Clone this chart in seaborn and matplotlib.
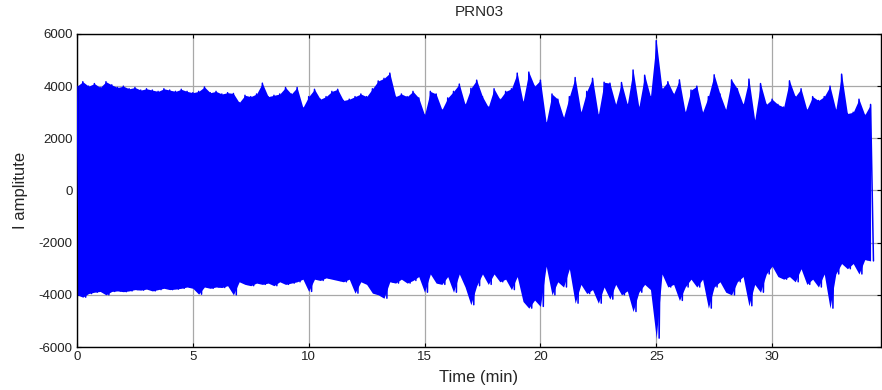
import numpy as np
import pandas as pd
import matplotlib.pyplot as plt
import seaborn as sns

# peak values, one pair per quarter minute (0 .. 34.25 min)
step_min = 0.25
upper_peaks = [
    4000, 4170, 4000, 4100,  3950, 4170, 4050, 3950,  4000, 3900, 3950, 3850,
    3900, 3850, 3800, 3900,  3850, 3800, 3880, 3800,  3750, 3800, 3970, 3750,
    3800, 3700, 3750, 3720,  3370, 3650, 3600, 3700,  4115, 3600, 3650, 3700,
    3950, 3700, 3950, 3180,  3600, 3880, 3500, 3600,  3800, 3880, 3450, 3500,
    3600, 3700, 3600, 3900,  4200, 4300, 4500, 3600,  3700, 3600, 3800, 3550,
    2900, 3800, 3700, 3100,  3550, 3800, 4080, 3300,  3920, 4230, 3600, 3200,
    3900, 3500, 3800, 3900,  4500, 3400, 4540, 4000,  4230, 2600, 3700, 3500,
    2800, 3600, 4330, 3000,  3800, 4300, 2900, 4150,  4115, 3300, 4140, 3300,
    4620, 3200, 4420, 3600,  5745, 3900, 4170, 3700,  4240, 3000, 3850, 4000,
    3000, 3600, 4435, 3700,  3100, 4240, 3900, 3300,  4270, 2700, 4100, 3300,
    3500, 3300, 3200, 4205,  3600, 3900, 3100, 3600,  3450, 3600, 4000, 3100,
    4460, 2950, 3000, 3500,  2900, 3300,
]
lower_peaks = [
    -4000, -4090, -3950, -3900,  -3870, -4000, -3870, -3850,  -3880, -3850, -3800, -3820,
    -3780, -3850, -3800, -3750,  -3800, -3780, -3750, -3700,  -3750, -3975, -3700, -3750,
    -3700, -3720, -3650, -4000,  -3500, -3600, -3650, -3550,  -3600, -3550, -3650, -3500,
    -3600, -3550, -3500, -3400,  -3870, -3400, -3450, -3350,  -3400, -3450, -3500, -3400,
    -3935, -3500, -3600, -3935,  -4000, -4130, -3500, -3550,  -3400, -3550, -3450, -3300,
    -3900, -3200, -3550, -3600,  -3300, -3900, -3200, -3700,  -4380, -3650, -3200, -3600,
    -3200, -3500, -3400, -3800,  -3300, -4255, -4510, -4200,  -4445, -2900, -4000, -3500,
    -3700, -3000, -4320, -3600,  -3950, -3800, -4320, -3700,  -4165, -3600, -4000, -3850,
    -4640, -3900, -3600, -3800,  -5660, -3200, -3700, -3600,  -4215, -3700, -3400, -3700,
    -3400, -4510, -3700, -3500,  -3900, -4000, -3500, -3300,  -4420, -3600, -3900, -3200,
    -2900, -3300, -3400, -3300,  -3500, -3000, -3600, -3400,  -3700, -3200, -4510, -3200,
    -2800, -3000, -2800, -3200,  -2650, -2700,
]

x_ticks = [0, 5, 10, 15, 20, 25, 30]
y_ticks = [-6000, -4000, -2000, 0, 2000, 4000, 6000]

t = np.arange(len(upper_peaks)) * step_min

# signal: positive peak, then negative peak half a step later
sig = pd.DataFrame({
    'time': np.concatenate([t, t + step_min / 2]),
    'amp': np.concatenate([upper_peaks, lower_peaks]),
    'order': np.concatenate([np.arange(len(t)) * 2, np.arange(len(t)) * 2 + 1]),
}).sort_values('order')

sns.set_style("whitegrid")
plt.rcParams['font.family'] = ['Liberation Sans', 'DejaVu Sans']
plt.rcParams['axes.unicode_minus'] = False

fig = plt.figure(figsize=(8.82, 3.9), dpi=100)
ax = fig.add_axes([77 / 882, 43 / 390, 804 / 882, 313 / 390])

blue = '#0000ff'
# the trace is so dense that its body reads as a solid band
ax.fill_between(t, lower_peaks, upper_peaks, color=blue, lw=0, zorder=2)
sns.lineplot(data=sig, x='time', y='amp', sort=False, estimator=None,
             color=blue, lw=1.1, ax=ax, zorder=3)

ax.set_xlim(0, 34.7)
ax.set_ylim(-6000, 6000)
ax.set_xticks(x_ticks)
ax.set_yticks(y_ticks)
ax.grid(True, color='#a8a8a8', lw=0.9)
ax.set_axisbelow(True)
for s in ax.spines.values():
    s.set_color('black')
    s.set_linewidth(1.0)
ax.tick_params(direction='in', length=3, width=0.8, color='black',
               labelsize=9.5, top=True, right=True, bottom=True, left=True,
               labelcolor='#222222', pad=3)

ax.set_title('PRN03', fontsize=11, pad=13)
ax.set_xlabel('Time (min)', fontsize=12, labelpad=5)
ax.set_ylabel('I amplitute', fontsize=12, labelpad=8)

fig.savefig('out.png', dpi=100)
